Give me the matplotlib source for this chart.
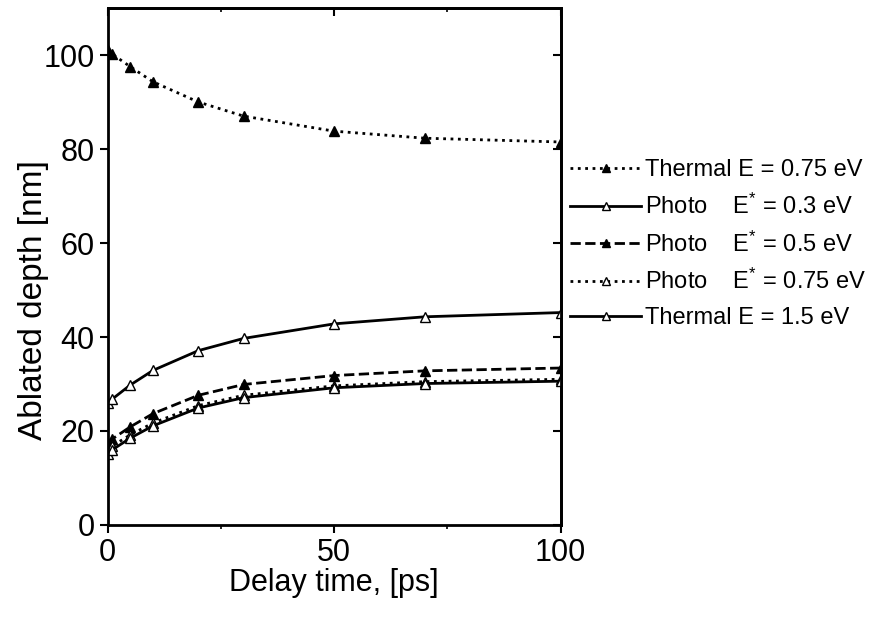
import matplotlib
matplotlib.use("Agg")
import matplotlib.pyplot as plt
from matplotlib.ticker import MultipleLocator

# ----------------------------------------------------------------------
# Data
# ----------------------------------------------------------------------
delay = [0, 1, 5, 10, 20, 30, 50, 70, 100]

thermal_075 = [101.0, 100.2, 97.5, 94.3, 90.0, 87.0, 83.8, 82.3, 81.5]
photo_03 = [26.0, 26.8, 29.8, 32.9, 37.1, 39.7, 42.8, 44.3, 45.2]
photo_05 = [17.5, 18.3, 20.9, 23.7, 27.6, 29.9, 31.8, 32.8, 33.4]
photo_075 = [16.0, 16.8, 19.2, 21.7, 25.4, 27.6, 29.6, 30.5, 31.0]
thermal_15 = [15.2, 16.0, 18.5, 21.1, 24.9, 27.1, 29.2, 30.1, 30.6]

labels = [
    "Thermal E = 0.75 eV",
    "Photo    E$^{*}$ = 0.3 eV",
    "Photo    E$^{*}$ = 0.5 eV",
    "Photo    E$^{*}$ = 0.75 eV",
    "Thermal E = 1.5 eV",
]

plt.rcParams["font.family"] = ["Liberation Sans", "DejaVu Sans"]
plt.rcParams["mathtext.fontset"] = "custom"
plt.rcParams["mathtext.rm"] = "Liberation Sans"
plt.rcParams["mathtext.it"] = "Liberation Sans"

fig = plt.figure(figsize=(8.76, 6.18), dpi=100)
ax = fig.add_axes([0.123, 0.1505, 0.517, 0.8365])

series = [
    (thermal_075, ":", "k", "k"),
    (photo_03, "-", "k", "white"),
    (photo_05, "--", "k", "k"),
    (photo_075, ":", "k", "white"),
    (thermal_15, "-", "k", "white"),
]

for (y, ls, col, face), label in zip(series, labels):
    ax.plot(
        delay,
        y,
        linestyle=ls,
        color=col,
        linewidth=2.0,
        marker="^",
        markersize=7,
        markerfacecolor=face,
        markeredgecolor="k",
        markeredgewidth=1.0,
        label=label,
    )

ax.set_xlim(0, 100)
ax.set_ylim(0, 110)
ax.xaxis.set_major_locator(MultipleLocator(50))
ax.xaxis.set_minor_locator(MultipleLocator(25))
ax.yaxis.set_major_locator(MultipleLocator(20))
ax.yaxis.set_minor_locator(plt.NullLocator())

ax.tick_params(which="major", direction="out", length=6, width=1.5, labelsize=22)
ax.tick_params(which="minor", direction="out", length=3, width=1.2)

# mirrored ticks pointing inward on top and right
top = ax.secondary_xaxis("top")
top.xaxis.set_major_locator(MultipleLocator(50))
top.xaxis.set_minor_locator(MultipleLocator(25))
top.tick_params(which="major", direction="in", length=6, width=1.5, labeltop=False)
top.tick_params(which="minor", direction="in", length=3, width=1.2)
right = ax.secondary_yaxis("right")
right.yaxis.set_major_locator(MultipleLocator(20))
right.tick_params(which="major", direction="in", length=6, width=1.5, labelright=False)

for sp in ax.spines.values():
    sp.set_linewidth(2.0)
for sp in list(top.spines.values()) + list(right.spines.values()):
    sp.set_linewidth(2.0)

ax.set_xlabel("Delay time, [ps]", fontsize=22, labelpad=0)
ax.set_ylabel("Ablated depth [nm]", fontsize=24, labelpad=0)
ax.yaxis.set_label_coords(-0.13, 0.435)

ax.legend(
    loc="upper left",
    bbox_to_anchor=(0.99, 0.735),
    frameon=False,
    fontsize=17,
    handlelength=3.0,
    handletextpad=0.15,
    labelspacing=0.53,
    borderaxespad=0.2,
    markerscale=0.8,
)

plt.savefig("out.png", dpi=100)
